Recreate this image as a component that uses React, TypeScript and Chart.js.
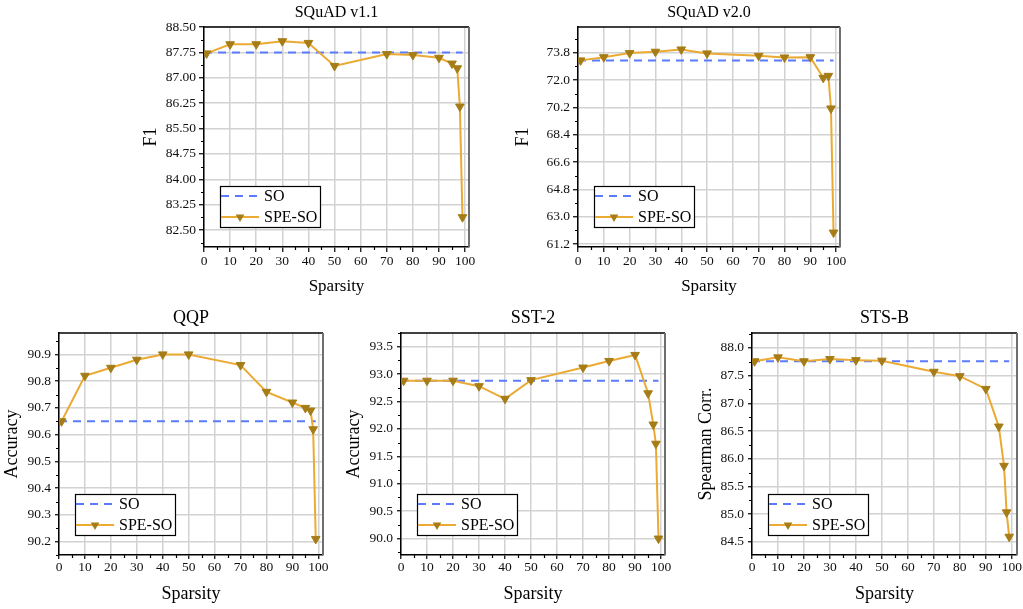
import React, { useEffect, useRef } from "react";
import { Chart, registerables } from "chart.js";

Chart.register(...registerables);

// ---------- data ----------
const sparsity = [1, 10, 20, 30, 40, 50, 70, 80, 90, 95, 97, 98, 99];
const soSparsity = [0, 99];
const xTickStep = 10;

const squad11SpeSo = [87.72, 87.99, 87.99, 88.08, 88.03, 87.35, 87.7, 87.67, 87.59, 87.42, 87.28, 86.15, 82.88];
const squad11So = [87.75, 87.75];

const squad20SpeSo = [73.3, 73.51, 73.78, 73.87, 74.02, 73.76, 73.6, 73.49, 73.51, 72.15, 72.28, 70.13, 61.95];
const squad20So = [73.3, 73.3];

const qqpSpeSo = [90.65, 90.82, 90.85, 90.88, 90.9, 90.9, 90.86, 90.76, 90.72, 90.7, 90.69, 90.62, 90.21];
const qqpSo = [90.65, 90.65];

const sst2SpeSo = [92.88, 92.88, 92.88, 92.78, 92.55, 92.89, 93.12, 93.24, 93.35, 92.65, 92.08, 91.73, 90.0];
const sst2So = [92.88, 92.88];

const stsbSpeSo = [87.76, 87.83, 87.76, 87.8, 87.78, 87.77, 87.57, 87.49, 87.26, 86.58, 85.87, 85.03, 84.59];
const stsbSo = [87.76, 87.76];

const seriesLabels = ["SO", "SPE-SO"];

// ---------- styles ----------
const FAMILY = "'Liberation Serif', 'Times New Roman', serif";
const SO_COLOR = "#5b7bff";
const SPE_COLOR = "#ebaa33";
const MARK_COLOR = "#a57c16";
const GRID_COLOR = "#d2d2d2";

type Box = {
  left: number; top: number; width: number; height: number;
  yAxisW: number; xAxisH: number; padTop: number; padRight: number;
  yTitlePad: number; xTitlePad: number; xTickPad: number; yTickPad: number; tickLen: number;
};
type Panel = {
  title: string; yTitle: string; speSo: number[]; so: number[];
  yMin: number; yMax: number; yStep: number; decimals: number; xMax: number;
  titleSize: number; axisTitleSize: number; yTitleSize: number;
  box: Box;
};

const panels: Panel[] = [
  {
    title: "SQuAD v1.1", yTitle: "F1", speSo: squad11SpeSo, so: squad11So,
    yMin: 82.0, yMax: 88.5, yStep: 0.75, decimals: 2, xMax: 101.5,
    titleSize: 16, axisTitleSize: 17, yTitleSize: 18,
    box: { left: 140, top: 0, width: 341, height: 297, yAxisW: 64, xAxisH: 50, padTop: 27, padRight: 12, yTitlePad: 2.5, xTitlePad: 2, xTickPad: 1, yTickPad: 3, tickLen: 5 },
  },
  {
    title: "SQuAD v2.0", yTitle: "F1", speSo: squad20SpeSo, so: squad20So,
    yMin: 61.0, yMax: 75.5, yStep: 1.8, decimals: 1, xMax: 101.5,
    titleSize: 16, axisTitleSize: 17, yTitleSize: 18,
    box: { left: 514, top: 0, width: 338, height: 297, yAxisW: 64, xAxisH: 50, padTop: 27, padRight: 12, yTitlePad: 0, xTitlePad: 2, xTickPad: 1, yTickPad: 3, tickLen: 5 },
  },
  {
    title: "QQP", yTitle: "Accuracy", speSo: qqpSpeSo, so: qqpSo,
    yMin: 90.15, yMax: 90.98, yStep: 0.1, decimals: 1, xMax: 101.8,
    titleSize: 18, axisTitleSize: 18, yTitleSize: 18,
    box: { left: 0, top: 300, width: 335, height: 309, yAxisW: 59, xAxisH: 54, padTop: 33, padRight: 12, yTitlePad: 3.5, xTitlePad: 6, xTickPad: 0, yTickPad: 4, tickLen: 4 },
  },
  {
    title: "SST-2", yTitle: "Accuracy", speSo: sst2SpeSo, so: sst2So,
    yMin: 89.7, yMax: 93.75, yStep: 0.5, decimals: 1, xMax: 101.5,
    titleSize: 18, axisTitleSize: 18, yTitleSize: 18,
    box: { left: 342, top: 300, width: 335, height: 309, yAxisW: 59, xAxisH: 54, padTop: 33, padRight: 12, yTitlePad: 2.8, xTitlePad: 6, xTickPad: 0, yTickPad: 4, tickLen: 4 },
  },
  {
    title: "STS-B", yTitle: "Spearman Corr.", speSo: stsbSpeSo, so: stsbSo,
    yMin: 84.26, yMax: 88.27, yStep: 0.5, decimals: 1, xMax: 102,
    titleSize: 18, axisTitleSize: 18, yTitleSize: 18,
    box: { left: 693, top: 300, width: 330, height: 309, yAxisW: 59, xAxisH: 54, padTop: 33, padRight: 5, yTitlePad: 4, xTitlePad: 6, xTickPad: 0, yTickPad: 4, tickLen: 4 },
  },
];

function makeDecor(p: Panel) {
  return {
    id: "panelDecor",
    afterDraw(chart: any) {
      const { ctx, chartArea } = chart;
      const { left, right, top, bottom } = chartArea;
      const xs = chart.scales.x;
      const ys = chart.scales.y;
      ctx.save();
      // frame: top black, right gray
      ctx.strokeStyle = "#000";
      ctx.lineWidth = 1.5;
      ctx.beginPath();
      ctx.moveTo(left, top);
      ctx.lineTo(right, top);
      ctx.stroke();
      ctx.strokeStyle = "#6f6f6f";
      ctx.lineWidth = 2;
      ctx.beginPath();
      ctx.moveTo(right, top);
      ctx.lineTo(right, bottom);
      ctx.stroke();
      // minor ticks
      ctx.strokeStyle = "#000";
      ctx.lineWidth = 1.2;
      ctx.beginPath();
      for (let v = xTickStep / 2; v <= xs.max; v += xTickStep) {
        const px = Math.round(xs.getPixelForValue(v)) + 0.5;
        ctx.moveTo(px, bottom);
        ctx.lineTo(px, bottom + 3);
      }
      const first = Math.ceil((ys.min - p.yStep / 2) / p.yStep);
      for (let k = first; ; k++) {
        const v = k * p.yStep + p.yStep / 2;
        if (v > ys.max) break;
        if (v < ys.min) continue;
        const py = Math.round(ys.getPixelForValue(v)) + 0.5;
        ctx.moveTo(left - 3, py);
        ctx.lineTo(left, py);
      }
      ctx.stroke();
      // title
      ctx.fillStyle = "#000";
      ctx.font = `${p.titleSize}px ${FAMILY}`;
      ctx.textAlign = "center";
      ctx.textBaseline = "alphabetic";
      ctx.fillText(p.title, (left + right) / 2, top - 10);
      // legend
      const bw = 100, bh = 41;
      const bx = left + 16;
      const by = bottom - 20 - bh;
      ctx.fillStyle = "#fff";
      ctx.fillRect(bx, by, bw, bh);
      ctx.strokeStyle = "#000";
      ctx.lineWidth = 1.2;
      ctx.strokeRect(bx + 0.5, by + 0.5, bw, bh);
      const rows = [by + 10, by + 31];
      const dsList = chart.data.datasets;
      dsList.forEach((ds: any, i: number) => {
        const cy = rows[i];
        ctx.save();
        ctx.strokeStyle = ds.borderColor;
        ctx.lineWidth = ds.borderWidth;
        ctx.setLineDash(ds.borderDash || []);
        ctx.beginPath();
        ctx.moveTo(bx + 1, cy);
        ctx.lineTo(bx + 39, cy);
        ctx.stroke();
        ctx.restore();
        if (ds.pointRadius > 0) {
          const r = ds.pointRadius;
          const cx = bx + 20;
          ctx.fillStyle = ds.pointBackgroundColor;
          ctx.beginPath();
          ctx.moveTo(cx, cy + r);
          ctx.lineTo(cx - r * 0.866, cy - r / 2);
          ctx.lineTo(cx + r * 0.866, cy - r / 2);
          ctx.closePath();
          ctx.fill();
        }
        ctx.fillStyle = "#000";
        ctx.font = `16px ${FAMILY}`;
        ctx.textAlign = "left";
        ctx.textBaseline = "middle";
        ctx.fillText(ds.label, bx + 44, cy + 1);
      });
      ctx.restore();
    },
  };
}

function PanelChart({ p }: { p: Panel }) {
  const ref = useRef<HTMLCanvasElement | null>(null);
  useEffect(() => {
    if (!ref.current) return;
    const b = p.box;
    const tickFont = { family: FAMILY, size: 13.5 };
    const chart = new Chart(ref.current, {
      type: "line",
      data: {
        datasets: [
          {
            label: seriesLabels[0],
            data: soSparsity.map((x, i) => ({ x, y: p.so[i] })),
            borderColor: SO_COLOR,
            borderDash: [8, 6],
            borderWidth: 2,
            pointRadius: 0,
            fill: false,
            order: 2,
          },
          {
            label: seriesLabels[1],
            data: sparsity.map((x, i) => ({ x, y: p.speSo[i] })),
            borderColor: SPE_COLOR,
            borderWidth: 2,
            pointStyle: "triangle",
            rotation: 180,
            pointRadius: 5,
            pointBackgroundColor: MARK_COLOR,
            pointBorderColor: MARK_COLOR,
            pointBorderWidth: 1,
            fill: false,
            tension: 0,
            order: 1,
          },
        ] as any,
      },
      options: {
        responsive: false,
        animation: false,
        events: [],
        layout: { padding: { top: b.padTop, right: b.padRight, left: 0, bottom: 0 } },
        plugins: { legend: { display: false }, tooltip: { enabled: false }, title: { display: false } },
        scales: {
          x: {
            type: "linear",
            min: 0,
            max: p.xMax,
            afterFit: (s: any) => { s.height = b.xAxisH; s.paddingLeft = 0; s.paddingRight = 0; },
            ticks: {
              stepSize: xTickStep, includeBounds: false, autoSkip: false, maxRotation: 0,
              padding: b.xTickPad, color: "#111", font: tickFont,
              callback: (v: any) => String(v),
            },
            grid: { color: GRID_COLOR, lineWidth: 1.5, tickLength: b.tickLen, tickColor: "#000", tickWidth: 1.2 },
            border: { color: "#000", width: 1.5 },
            title: {
              display: true, text: "Sparsity", color: "#000",
              font: { family: FAMILY, size: p.axisTitleSize, lineHeight: 1 },
              padding: { top: 0, bottom: b.xTitlePad },
            },
          },
          y: {
            type: "linear",
            min: p.yMin,
            max: p.yMax,
            afterFit: (s: any) => { s.width = b.yAxisW; s.paddingTop = 0; s.paddingBottom = 0; },
            ticks: {
              stepSize: p.yStep, includeBounds: false, autoSkip: false,
              padding: b.yTickPad, color: "#111", font: tickFont,
              callback: (v: any) => Number(v).toFixed(p.decimals),
            },
            grid: { color: GRID_COLOR, lineWidth: 1.5, tickLength: b.tickLen, tickColor: "#000", tickWidth: 1.2 },
            border: { color: "#000", width: 1.5 },
            title: {
              display: true, text: p.yTitle, color: "#000",
              font: { family: FAMILY, size: p.yTitleSize, lineHeight: 1 },
              padding: { top: b.yTitlePad, bottom: 0 },
            },
          },
        },
      } as any,
      plugins: [makeDecor(p)],
    });
    return () => chart.destroy();
  }, [p]);
  const b = p.box;
  return (
    <canvas
      ref={ref}
      width={b.width}
      height={b.height}
      style={{ position: "absolute", left: b.left, top: b.top, width: b.width, height: b.height }}
    />
  );
}

export default function App() {
  useEffect(() => {
    document.body.style.margin = "0";
    document.body.style.overflow = "hidden";
  }, []);
  return (
    <div style={{ position: "relative", width: 1023, height: 609, overflow: "hidden", background: "#fff" }}>
      {panels.map((p) => (
        <PanelChart key={p.title} p={p} />
      ))}
    </div>
  );
}
